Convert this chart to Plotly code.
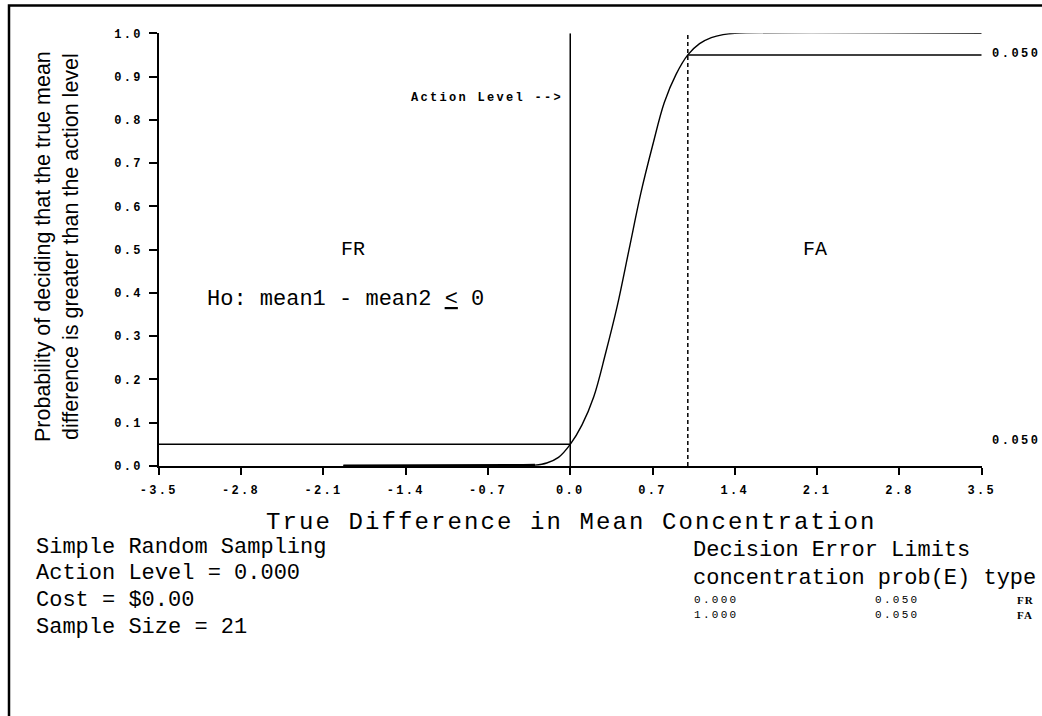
import plotly.graph_objects as go

# ---- data ----
curve_x = [-1.93, -0.6, -0.4, -0.3, -0.2, -0.1, 0.0, 0.1, 0.2, 0.3, 0.4, 0.5,
           0.6, 0.7, 0.8, 0.9, 1.0, 1.1, 1.2, 1.3, 1.4, 3.5]
curve_y = [0.0, 0.0, 0.001, 0.002, 0.007, 0.02, 0.05, 0.095, 0.16, 0.26, 0.37, 0.5,
           0.63, 0.74, 0.84, 0.905, 0.95, 0.976, 0.99, 0.997, 1.0, 1.0]

x_ticks = [-3.5, -2.8, -2.1, -1.4, -0.7, 0.0, 0.7, 1.4, 2.1, 2.8, 3.5]
y_ticks = [0.0, 0.1, 0.2, 0.3, 0.4, 0.5, 0.6, 0.7, 0.8, 0.9, 1.0]

action_level = 0.0
fr_conc, fr_prob = 0.0, 0.05
fa_conc, fa_prob = 1.0, 0.05
x_min, x_max = -3.5, 3.5

info_lines = ["Simple Random Sampling", "Action Level = 0.000",
              "Cost = $0.00", "Sample Size = 21"]
limits_conc = ["0.000", "1.000"]
limits_prob = ["0.050", "0.050"]
limits_type = ["FR", "FA"]

# ---- figure ----
W, H = 1042, 716
MONO = "Liberation Mono"


def px_x(p):
    return p / W


def px_y(p):
    return 1 - p / H


def spaced(t, sp, bold=False):
    w = "font-weight:bold;" if bold else ""
    return f'<span style="{w}letter-spacing:{sp}px">{t}</span>'


fig = go.Figure()

# thick flat tail of the curve near zero
tail_x = [x for x, y in zip(curve_x, curve_y) if y < 0.003]
tail_y = [y for y in curve_y[:len(tail_x)]]
fig.add_trace(go.Scatter(x=tail_x, y=tail_y, mode="lines",
                         line=dict(color="black", width=3), cliponaxis=False,
                         hoverinfo="skip"))
fig.add_trace(go.Scatter(x=curve_x, y=curve_y, mode="lines", line_shape="spline",
                         line=dict(color="black", width=1.4), cliponaxis=False,
                         hoverinfo="skip"))

lw = 1.5
fig.add_shape(type="line", xref="x", yref="y", x0=action_level, x1=action_level,
              y0=0, y1=1, line=dict(color="black", width=lw))
fig.add_shape(type="line", xref="x", yref="y", x0=fa_conc, x1=fa_conc,
              y0=0, y1=1, line=dict(color="black", width=lw, dash="4px,3px"))
fig.add_shape(type="line", xref="x", yref="y", x0=x_min, x1=fr_conc,
              y0=fr_prob, y1=fr_prob, line=dict(color="black", width=lw))
fig.add_shape(type="line", xref="x", yref="y", x0=fa_conc, x1=x_max,
              y0=1 - fa_prob, y1=1 - fa_prob, line=dict(color="black", width=lw))
# outer frame
fig.add_shape(type="rect", xref="paper", yref="paper", x0=px_x(9), x1=1.05,
              y0=-0.05, y1=px_y(5.5), line=dict(color="black", width=2.5))

ann = []


def add(text, x, y, xref="paper", yref="paper", size=22, xanchor="left",
        yanchor="middle", family=MONO, angle=0):
    ann.append(dict(text=text, x=x, y=y, xref=xref, yref=yref, showarrow=False,
                    xanchor=xanchor, yanchor=yanchor, textangle=angle,
                    font=dict(family=family, size=size, color="black")))


add("Probability of deciding that the true mean<br>difference is greater than the action level",
    px_x(57), px_y(247), size=21.5, xanchor="center", family="Liberation Sans", angle=-90)
add(spaced("True Difference in Mean Concentration", 2.1), px_x(571), px_y(522),
    size=24, xanchor="center")

add(spaced("Action Level --&gt;", 2.3, True), px_x(565), px_y(98), size=12, xanchor="right")
add("FR", -1.85, 0.5, xref="x", yref="y", size=20, xanchor="center")
add("FA", 2.08, 0.5, xref="x", yref="y", size=20, xanchor="center")
add("Ho: mean1 - mean2 <u>&lt;</u> 0", px_x(345), px_y(300), size=22, xanchor="center")

add(spaced(f"{fa_prob:.3f}", 2.5, True), px_x(990), px_y(54), size=12)
add(spaced(f"{fr_prob:.3f}", 2.5, True), px_x(990), px_y(441), size=12)

for i, t in enumerate(info_lines):
    add(t, px_x(34), px_y(547 + i * 26.7), size=22)

add("Decision Error Limits", px_x(691), px_y(550), size=22)
add("concentration prob(E) type", px_x(691), px_y(578), size=22)
for i in range(len(limits_conc)):
    y = px_y(600 + i * 15)
    add(spaced(limits_conc[i], 2.3), px_x(692), y, size=11)
    add(spaced(limits_prob[i], 2.3), px_x(873), y, size=11)
    add(spaced(limits_type[i], 1, True), px_x(1015), y, size=11, family="Liberation Serif")

tickfont = dict(family=MONO, size=12, color="black")
fig.update_layout(
    template="none",
    width=W, height=H, autosize=False,
    margin=dict(l=0, r=0, t=0, b=0, pad=0),
    paper_bgcolor="white", plot_bgcolor="white",
    showlegend=False,
    annotations=ann,
    xaxis=dict(domain=[158.8 / W, 981.7 / W], range=[x_min, x_max], automargin=False,
               tickvals=x_ticks, ticktext=[spaced(f"{v:.1f}", 2.3, True) for v in x_ticks],
               showline=True, linecolor="black", linewidth=lw, ticks="outside",
               ticklen=7, tickwidth=lw, tickcolor="black", showgrid=False,
               zeroline=False, tickfont=tickfont, fixedrange=True,
               ticklabelstandoff=5),
    yaxis=dict(domain=[1 - 466 / H, 1 - 33.3 / H], range=[0, 1], automargin=False,
               tickvals=y_ticks, ticktext=[spaced(f"{v:.1f}", 2.3, True) for v in y_ticks],
               showline=True, linecolor="black", linewidth=lw, ticks="outside",
               ticklen=8, tickwidth=lw, tickcolor="black", showgrid=False,
               zeroline=False, tickfont=tickfont, fixedrange=True,
               ticklabelstandoff=4),
)

fig.write_html("out.html", config={"displayModeBar": False},
               post_script="document.body.style.margin='0';document.body.style.overflow='hidden';")
